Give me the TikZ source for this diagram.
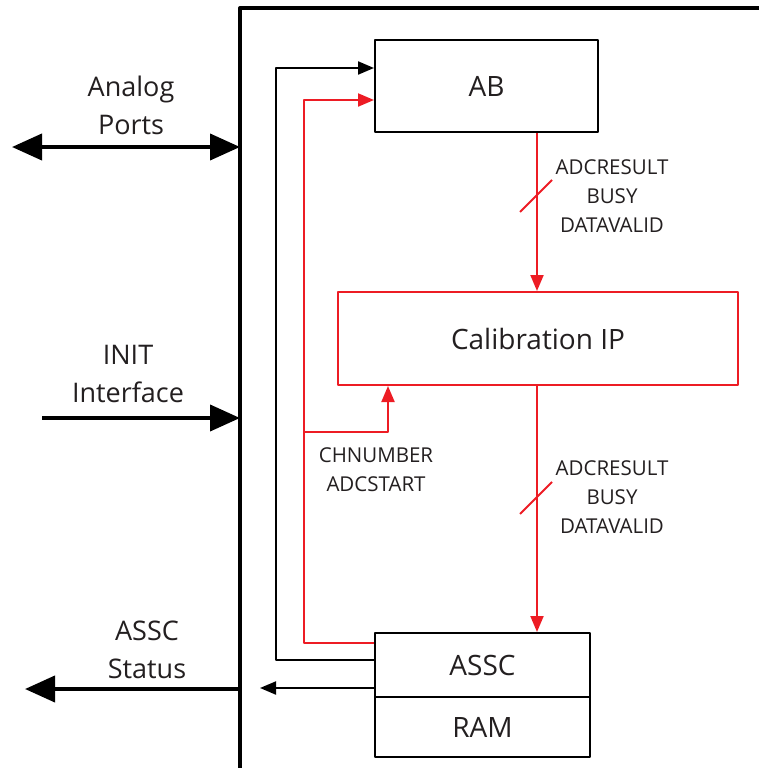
\documentclass[tikz,border=0pt]{standalone}
\usepackage{fontspec}
\setmainfont{Open Sans}
\usetikzlibrary{arrows.meta,positioning,calc}
\definecolor{sigred}{RGB}{237,28,36}
\definecolor{txtgray}{RGB}{35,31,32}

\begin{document}
\begin{tikzpicture}[x=1pt, y=-1pt, line join=round,
  blockbox/.style={draw, line width=2pt, minimum width=223pt, minimum height=92pt, inner sep=0pt, font=\fontsize{28}{28}\selectfont, text=txtgray},
  redbox/.style={blockbox, draw=sigred},
  sigline/.style={sigred, line width=2pt},
  ctlline/.style={black, line width=2pt},
  smallarrow/.style={-{Triangle[length=16pt,width=13pt]}},
  bigarrow/.style={line width=4pt, -{Triangle[length=30pt,width=26pt]}},
  lbl/.style={align=center, font=\fontsize{27}{38}\selectfont, text=txtgray},
  siglbl/.style={align=center, font=\fontsize{20.5}{29}\selectfont, text=txtgray}]
\useasboundingbox (0,0) rectangle (759,768);

% chip outline
\draw[line width=4pt] (240,770) -- (240,8) -- (761,8);

% blocks
\node[blockbox] (ab) at (486.5,86) {AB};
\node[redbox, minimum width=400pt, minimum height=93pt] (calib) at (538,338.5) {Calibration IP};
\node[blockbox, minimum width=215pt, minimum height=64pt] (assc) at (482.5,665) {ASSC};
\node[blockbox, minimum width=215pt, minimum height=60pt] (ram) at (482.5,727) {RAM};

% outside ports
\node[lbl] (analog) at (131,105) {Analog\\Ports};
\node[lbl] (init) at (128,374) {INIT\\Interface};
\node[lbl] (status) at (147,650) {ASSC\\Status};
\coordinate (analogL) at (12,147);
\coordinate (initL) at (42,418);
\coordinate (statusL) at (25,689);
\draw[bigarrow, {Triangle[length=30pt,width=26pt]}-{Triangle[length=30pt,width=26pt]}] (analogL) -- (analogL -| 240,0);
\draw[bigarrow] (initL) -- (initL -| 240,0);
\draw[bigarrow] (statusL -| 240,0) -- (statusL);

% ASSC control back to AB
\draw[ctlline, smallarrow] (assc.west |- 0,660) -| (276,68) -- (ab.west |- 0,68);
\draw[sigline, smallarrow] (assc.west |- 0,643) -| (304,100) -- (ab.west |- 0,100);
\draw[sigline, smallarrow] (304,432) -| (calib.south -| 388,0);
\draw[ctlline, smallarrow] (assc.west |- 0,688) -- (260,688);
\node[siglbl] (chlbl) at (376,470) {CHNUMBER\\ADCSTART};

% data buses
\draw[sigline, smallarrow] (ab.south -| 537,0) -- (calib.north -| 537,0);
\draw[sigline] (520,212) -- (552,180);
\node[siglbl] (buslbl1) at (612,196) {ADCRESULT\\BUSY\\DATAVALID};
\draw[sigline, smallarrow] (calib.south -| 537,0) -- (assc.north -| 537,0);
\draw[sigline] (520,514) -- (552,482);
\node[siglbl] (buslbl2) at (612,497) {ADCRESULT\\BUSY\\DATAVALID};
\end{tikzpicture}
\end{document}
